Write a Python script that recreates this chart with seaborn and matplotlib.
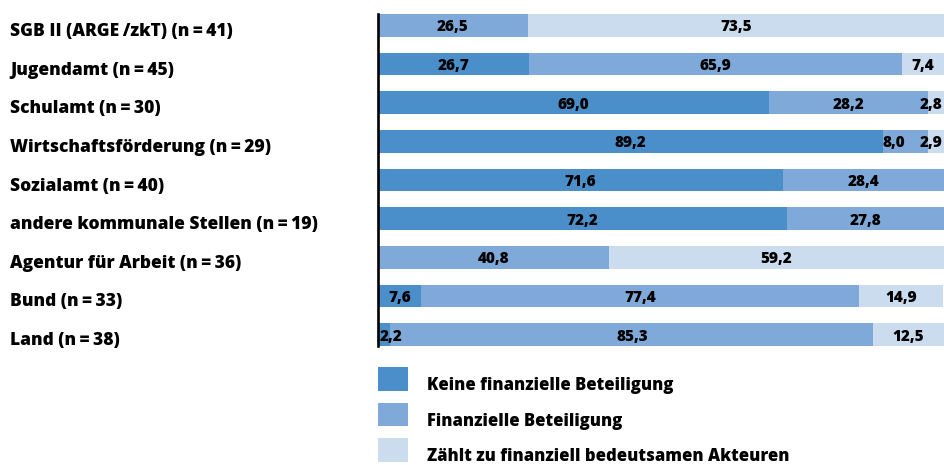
import numpy as np
import pandas as pd
import matplotlib
matplotlib.use("Agg")
import matplotlib.pyplot as plt
import matplotlib.transforms as mtransforms
import seaborn as sns
from matplotlib.patches import Patch

# Data (percent)
categories = [
    "SGB II (ARGE\u2009/zkT) (n\u2009=\u200941)",
    "Jugendamt (n\u2009=\u200945)",
    "Schulamt (n\u2009=\u200930)",
    "Wirtschaftsförderung (n\u2009=\u200929)",
    "Sozialamt (n\u2009=\u200940)",
    "andere kommunale Stellen (n\u2009=\u200919)",
    "Agentur für Arbeit (n\u2009=\u200936)",
    "Bund (n\u2009=\u200933)",
    "Land (n\u2009=\u200938)",
]
keine = [0.0, 26.7, 69.0, 89.2, 71.6, 72.2, 0.0, 7.6, 2.2]
finanziell = [26.5, 65.9, 28.2, 8.0, 28.4, 27.8, 40.8, 77.4, 85.3]
bedeutsam = [73.5, 7.4, 2.8, 2.9, 0.0, 0.0, 59.2, 14.9, 12.5]

series_names = [
    "Keine finanzielle Beteiligung",
    "Finanzielle Beteiligung",
    "Zählt zu finanziell bedeutsamen Akteuren",
]
colors = ["#4a8fca", "#7ea9d8", "#ccdcef"]

sns.set_style("white")
plt.rcParams["font.family"] = ["Open Sans", "DejaVu Sans"]
plt.rcParams["text.color"] = "black"
W = 800  # heavy bold

df = pd.DataFrame({"Kategorie": categories, "keine": keine,
                   "fin": finanziell, "bed": bedeutsam})
df["c1"] = df["keine"]
df["c2"] = df["keine"] + df["fin"]
df["c3"] = df["c2"] + df["bed"]

fig = plt.figure(figsize=(9.44, 4.65), dpi=100)
ax = fig.add_axes([378 / 944, 1 - 346 / 465, 1 - 378 / 944, 332 / 465])

# stacked bars: draw cumulative totals back to front
for col, color in zip(["c3", "c2", "c1"], colors[::-1]):
    sns.barplot(data=df, x=col, y="Kategorie", orient="h", color=color,
                width=0.59, saturation=1, edgecolor="none", ax=ax)

ax.set_xlim(0, 100)
ax.set_ylim(len(categories) - 1 + 0.295, -0.295)
ax.set_xlabel("")
ax.set_ylabel("")
ax.set_xticks([])
ax.set_yticks(range(len(categories)))
ax.set_yticklabels([])
ax.tick_params(axis="y", length=0)
for s in ["top", "right", "bottom"]:
    ax.spines[s].set_visible(False)
ax.spines["left"].set_color("black")
ax.spines["left"].set_linewidth(1.9)

# category labels, left aligned at the figure edge, slightly below bar centre
trans = mtransforms.blended_transform_factory(fig.transFigure, ax.transData)
trans = trans + mtransforms.ScaledTranslation(0, -4 / 100, fig.dpi_scale_trans)
for i, cat in enumerate(categories):
    ax.text(10 / 944, i, cat, transform=trans, ha="left",
            va="center_baseline", fontsize=12.5, fontweight=W, color="black")

# value labels
for i in range(len(categories)):
    vals = [keine[i], finanziell[i], bedeutsam[i]]
    start = 0.0
    for j, v in enumerate(vals):
        a, b = start, start + v
        start = b
        if v <= 0:
            continue
        txt = f"{v:.1f}".replace(".", ",")
        x, ha = (a + b) / 2, "center"
        if v < 4 and a < 1:
            x, ha = 0.2, "left"
        elif v < 4 and b > 98:
            x, ha = 99.8, "right"
        elif j < 2 and 0 < vals[j + 1] < 4 and v < 15:
            x -= 2
        ax.text(x, i, txt, ha=ha, va="center_baseline", fontsize=11,
                fontweight=W, color="black")

handles = [Patch(facecolor=c, edgecolor="none") for c in colors]
leg = fig.legend(handles, series_names, loc="upper left",
                 bbox_to_anchor=(378 / 944, 1 - 367 / 465), frameon=False,
                 borderpad=0, borderaxespad=0, handlelength=1.8,
                 handleheight=1.8, handletextpad=1.15, labelspacing=0.72,
                 prop={"size": 12, "weight": W})
# legend text sits a little below the square centre in the reference
shift = mtransforms.ScaledTranslation(0, -6 / 100, fig.dpi_scale_trans)
for t in leg.get_texts():
    t.set_color("black")
    t.set_transform(t.get_transform() + shift)

fig.savefig("out.png", dpi=100)
